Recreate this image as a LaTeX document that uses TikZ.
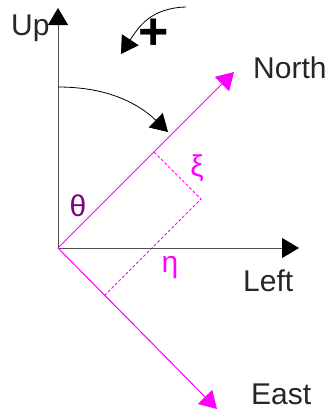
\documentclass[tikz,border=0pt]{standalone}
\usepackage{fontspec}
\setmainfont{Liberation Sans}
\usetikzlibrary{arrows.meta}
\definecolor{mag}{RGB}{255,0,255}
\definecolor{purp}{RGB}{128,0,128}
\definecolor{axgray}{RGB}{80,80,80}
\tikzset{
  tip/.style={-{Triangle[length=17pt,width=20pt]}},
  ax/.style={-{Triangle[length=17pt,width=20pt,color=black]},draw=axgray,line width=1pt},
  dir/.style={tip,draw=mag,fill=mag,line width=1pt},
  proj/.style={draw=mag,dashed,dash pattern=on 3pt off 2pt,line width=0.8pt},
  rot/.style={tip,line width=0.8pt},
  lbl/.style={font=\fontsize{30}{32}\selectfont,text=black!85,inner sep=0pt},
  grk/.style={lbl,text=mag},
}
\begin{document}
\begin{tikzpicture}[x=1pt, y=-1pt]
  \useasboundingbox (0,0) rectangle (332,413);
  \coordinate (o) at (58,248);
  \coordinate (up) at (58,8);
  \coordinate (lt) at (299,248);
  \coordinate (no) at (234,72);
  \coordinate (ea) at (217,409);
  % projection of a point onto the north and east axes
  \coordinate (p) at (201,199);
  \coordinate (pn) at (154,152);
  \coordinate (pe) at (105,295);
  \draw[proj] (pn) -- (p) -- (pe);
  \draw[ax] (o) -- (up);
  \draw[ax] (o) -- (lt);
  \draw[dir] (o) -- (no);
  \draw[dir] (o) -- (ea);
  % rotation arrows
  \coordinate (ta) at (58,87);
  \coordinate (tb) at (168,132);
  \draw[rot] (ta) .. controls (110,87) and (140,105) .. (tb);
  \coordinate (sa) at (186,7);
  \coordinate (sb) at (121,54);
  \draw[rot] (sa) .. controls (150,8) and (138,28) .. (sb);
  \node[lbl, anchor=base west] (lup) at (11,35) {Up};
  \node[lbl, anchor=base west] (lno) at (253,78) {North};
  \node[lbl, anchor=base west] (llt) at (243,291) {Left};
  \node[lbl, anchor=base west] (lea) at (251,404) {East};
  \node[lbl, font=\fontsize{52}{52}\selectfont\bfseries, text=black] (plus) at (154,34) {+};
  \node[grk, text=purp] (th) at (78,206) {θ};
  \node[grk] (xi) at (197,168) {ξ};
  \node[grk] (eta) at (170,268) {η};
\end{tikzpicture}
\end{document}
